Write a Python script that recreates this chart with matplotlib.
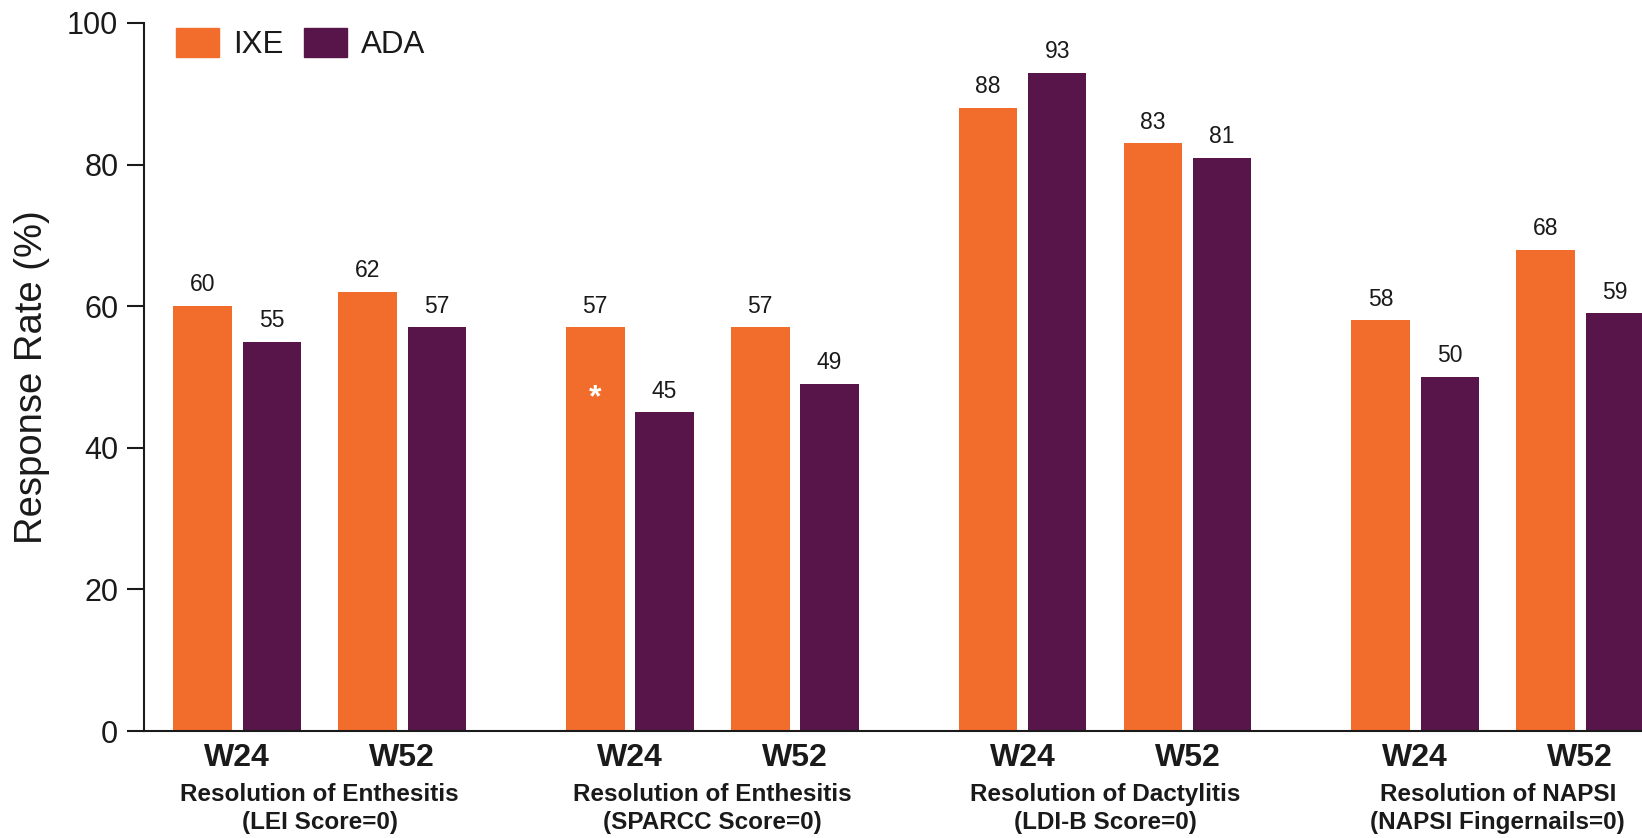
import matplotlib.pyplot as plt
import numpy as np
from matplotlib.patches import Patch

plt.rcParams['font.family'] = ['Liberation Sans', 'DejaVu Sans']

# Data
group_titles = ["Resolution of Enthesitis", "Resolution of Enthesitis",
                "Resolution of Dactylitis", "Resolution of NAPSI"]
group_subtitles = ["(LEI Score=0)", "(SPARCC Score=0)",
                   "(LDI-B Score=0)", "(NAPSI Fingernails=0)"]
weeks = ["W24", "W52"]
ixe = [60, 62, 57, 57, 88, 83, 58, 68]
ada = [55, 57, 45, 49, 93, 81, 50, 59]
series_names = ["IXE", "ADA"]
yticks = [0, 20, 40, 60, 80, 100]

# Style
ORANGE = "#F26D2B"
PURPLE = "#57154A"
TEXT = "#1a1a1a"
group_step = 2.38
bar_w = 0.355
bar_off = 0.21

fig = plt.figure(figsize=(16.42, 8.38), dpi=100)
ax = fig.add_axes([144 / 1642, 107 / 838, 1 - 144 / 1642, (731 - 23) / 838])

centers = np.array([g * group_step + w for g in range(len(group_titles))
                    for w in range(len(weeks))], dtype=float)

b1 = ax.bar(centers - bar_off, ixe, width=bar_w, color=ORANGE, label=series_names[0])
b2 = ax.bar(centers + bar_off, ada, width=bar_w, color=PURPLE, label=series_names[1])
for bars in (b1, b2):
    ax.bar_label(bars, labels=[f"{v:g}" for v in bars.datavalues],
                 padding=7, fontsize=16.5, color=TEXT)

# significance marker on the SPARCC W24 IXE bar
ax.text(centers[2] - bar_off, 47.0, "*", color="white", fontsize=23,
        fontweight="bold", ha="center", va="center")

ax.set_ylim(0, 100)
ax.set_xlim(-0.565, 3 * group_step + 1 + 0.3745)
ax.set_yticks(yticks)
ax.set_xticks([])
ax.tick_params(axis="y", labelsize=22, length=12, width=1.5, pad=6.5,
               colors=TEXT)
for s in ("top", "right"):
    ax.spines[s].set_visible(False)
for s in ("left", "bottom"):
    ax.spines[s].set_linewidth(1.5)
    ax.spines[s].set_color(TEXT)

fig.text(32 / 1642, 1 - 377 / 838, "Response Rate (%)", rotation=90,
         ha="center", va="center", fontsize=27.5, color=TEXT)

# category labels beneath the axis
tr = ax.get_xaxis_transform()
h = 731 - 23
for i, c in enumerate(centers):
    ax.text(c, -(758 - 731) / h, weeks[i % 2], transform=tr, ha="center",
            va="center", fontsize=23, fontweight="bold", color=TEXT)
for g in range(len(group_titles)):
    mid = g * group_step + 0.5
    ax.text(mid, -(794 - 731) / h, group_titles[g], transform=tr, ha="center",
            va="center", fontsize=17.5, fontweight="bold", color=TEXT)
    ax.text(mid, -(822 - 731) / h, group_subtitles[g], transform=tr, ha="center",
            va="center", fontsize=17.5, fontweight="bold", color=TEXT)

handles = [Patch(color=ORANGE), Patch(color=PURPLE)]
fig.legend(handles, series_names, loc="upper left",
           bbox_to_anchor=(176 / 1642, 1 - 28 / 838), ncol=2, frameon=False,
           fontsize=22.5, handlelength=1.38, handleheight=1.06,
           handletextpad=0.45, columnspacing=0.64, borderpad=0,
           borderaxespad=0, labelcolor=TEXT)

fig.savefig("out.png", dpi=100)
